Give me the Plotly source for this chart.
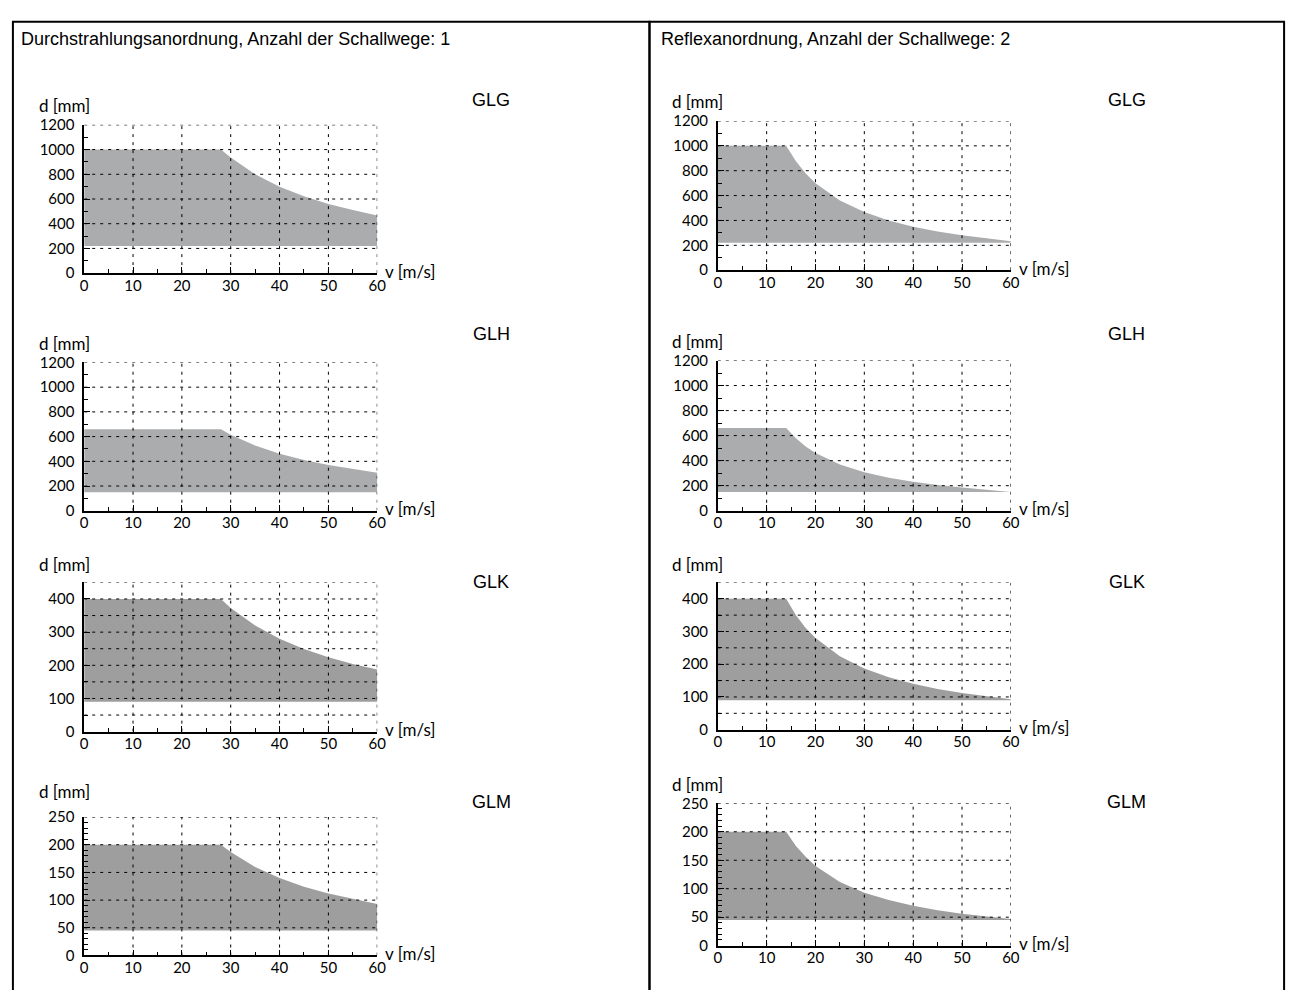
import plotly.graph_objects as go

# ---------------- data ----------------
panel_titles = ["Durchstrahlungsanordnung, Anzahl der Schallwege: 1",
                "Reflexanordnung, Anzahl der Schallwege: 2"]
sensor_names = ["GLG", "GLH", "GLK", "GLM"]

# left column (Durchstrahlung)
v_left = [0, 28, 30, 35, 40, 45, 50, 55, 60]
glg_left = [1000, 1000, 935, 800, 700, 622, 560, 510, 467]
glh_left = [660, 660, 615, 528, 462, 410, 370, 336, 308]
glk_left = [400, 400, 373, 320, 280, 249, 224, 204, 187]
glm_left = [200, 200, 187, 160, 140, 124, 112, 102, 93]

# right column (Reflex)
v_right = [0, 14, 16, 18, 20, 25, 30, 35, 40, 45, 50, 55, 60]
glg_right = [1000, 1000, 875, 778, 700, 560, 467, 400, 350, 311, 280, 255, 233]
glh_right = [660, 660, 578, 513, 462, 370, 308, 264, 231, 205, 185, 168, 154]
glk_right = [400, 400, 350, 311, 280, 224, 187, 160, 140, 124, 112, 102, 93]
glm_right = [200, 200, 175, 156, 140, 112, 93, 80, 70, 62, 56, 51, 47]

# minimum pipe diameters (lower bound of area)
d_min = [220, 150, 90, 45]

# axes
x_ticks = [0, 10, 20, 30, 40, 50, 60]
x_grid = [10, 20, 30, 40, 50, 60]
y_max = [1200, 1200, 450, 250]
y_label_step = [200, 200, 100, 50]
y_minor_step = [100, 100, 50, 10]
y_grid = [
    [200, 400, 600, 800, 1000, 1200],
    [200, 400, 600, 800, 1000, 1200],
    [50, 100, 150, 200, 250, 300, 350, 400, 450],
    [50, 100, 150, 200, 250],
]
fill_colors = ["#ABACAE", "#ABACAE", "#9E9E9E", "#9E9E9E"]

# ---------------- layout geometry (page pixels) ----------------
W, H = 1302, 990
col_x = [(81, 377), (721, 1017)]
rows_px = [
    [(117, 268), (359, 510), (583, 735), (822, 963)],
    [(113, 265), (357, 510), (583, 733), (808, 953)],
]
dlabel_y = [[97, 340, 565, 796], [93, 338, 565, 789]]
name_x = [492, 1134]
name_y = [92, 330, 583, 807]
title_x = [15, 662]
title_y = 30

def px_x(p):
    return p / W

def px_y(p):
    return 1 - p / H

tick_font = dict(family="Lato", size=15, color="black")
label_font = dict(family="Lato", size=17, color="black")
arial = "Liberation Sans, Arial"

fig = go.Figure()
shapes = []
annotations = []

series = [
    [(v_left, glg_left), (v_left, glh_left), (v_left, glk_left), (v_left, glm_left)],
    [(v_right, glg_right), (v_right, glh_right), (v_right, glk_right), (v_right, glm_right)],
]

idx = 0
for c in range(2):
    for r in range(4):
        idx += 1
        xa = "x" if idx == 1 else f"x{idx}"
        ya = "y" if idx == 1 else f"y{idx}"
        v, d = series[c][r]
        lo = d_min[r]
        poly_x = list(v) + list(reversed(v))
        poly_y = list(d) + [lo] * len(v)
        fig.add_trace(go.Scatter(
            x=poly_x, y=poly_y, fill="toself", fillcolor=fill_colors[r],
            mode="lines", line=dict(width=0, color=fill_colors[r]),
            xaxis=xa, yaxis=ya, showlegend=False, hoverinfo="skip"))

        top, bot = rows_px[c][r]
        x0, x1 = col_x[c]
        xkey = "xaxis" if idx == 1 else f"xaxis{idx}"
        ykey = "yaxis" if idx == 1 else f"yaxis{idx}"
        fig.update_layout(**{
            xkey: dict(domain=[px_x(x0), px_x(x1)], anchor=ya, range=[0, 60],
                       tickvals=x_ticks, ticks="inside", ticklen=6, tickwidth=1,
                       tickcolor="black", showline=True, linecolor="black",
                       linewidth=1.5, showgrid=False, zeroline=False,
                       tickfont=tick_font, ticklabelstandoff=-2,
                       minor=dict(dtick=5, ticks="inside", ticklen=4,
                                  tickcolor="black", showgrid=False),
                       fixedrange=True),
            ykey: dict(domain=[px_y(bot), px_y(top)], anchor=xa,
                       range=[0, y_max[r]], dtick=y_label_step[r], tick0=0,
                       ticks="inside", ticklen=6, tickwidth=1, tickcolor="black",
                       showline=True, linecolor="black", linewidth=1.5,
                       showgrid=False, zeroline=False, tickfont=tick_font,
                       ticklabelstandoff=5,
                       minor=dict(dtick=y_minor_step[r], ticks="inside",
                                  ticklen=4, tickcolor="black", showgrid=False),
                       fixedrange=True),
        })
        # dotted grid drawn above the filled areas
        for gx in x_grid:
            shapes.append(dict(type="line", xref=xa, yref=ya, x0=gx, x1=gx,
                               y0=0, y1=y_max[r], layer="above",
                               line=dict(color="black", width=1, dash="3px,5px")))
        for gy in y_grid[r]:
            shapes.append(dict(type="line", xref=xa, yref=ya, x0=0, x1=60,
                               y0=gy, y1=gy, layer="above",
                               line=dict(color="black", width=1, dash="3px,5px")))
        # axis titles
        annotations.append(dict(text="d [mm]", xref="paper", yref="paper",
                                x=px_x(x0 - 48), y=px_y(dlabel_y[c][r]),
                                xanchor="left", yanchor="middle", showarrow=False,
                                font=label_font))
        annotations.append(dict(text="v [m/s]", xref=f"{xa} domain",
                                yref=f"{ya} domain", x=1, y=0, xshift=6,
                                yshift=2, xanchor="left", yanchor="middle",
                                showarrow=False, font=label_font))
        # sensor names
        annotations.append(dict(text=sensor_names[r], xref="paper", yref="paper",
                                x=px_x(name_x[c]), y=px_y(name_y[r]),
                                xanchor="center", yanchor="middle",
                                showarrow=False,
                                font=dict(family=arial, size=18, color="black")))

# panel frames and titles
frames = [(9, 652), (652, 1293)]
for c in range(2):
    fx0, fx1 = frames[c]
    shapes.append(dict(type="rect", xref="paper", yref="paper",
                       x0=px_x(fx0), x1=px_x(fx1), y0=-0.03, y1=px_y(12),
                       line=dict(color="black", width=2), layer="above"))
    annotations.append(dict(text=panel_titles[c], xref="paper", yref="paper",
                            x=px_x(title_x[c]), y=px_y(title_y),
                            xanchor="left", yanchor="middle", showarrow=False,
                            font=dict(family=arial, size=18, color="black")))

fig.update_layout(width=W, height=H, margin=dict(l=0, r=0, t=0, b=0),
                  paper_bgcolor="white", plot_bgcolor="white",
                  shapes=shapes, annotations=annotations, showlegend=False)

fig.write_html("out.html", config=dict(displayModeBar=False),
               post_script="document.body.style.margin='0';"
                           "document.body.style.overflow='hidden';")
